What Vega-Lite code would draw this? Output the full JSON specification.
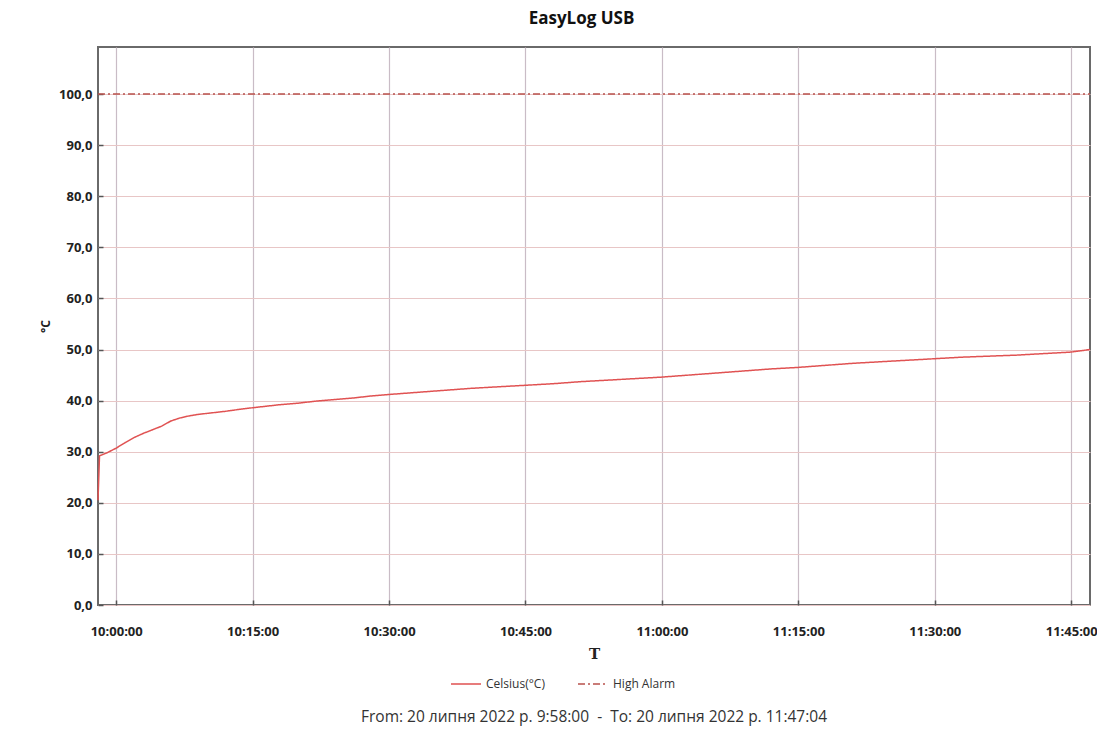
{
  "$schema": "https://vega.github.io/schema/vega-lite/v6.json",
  "width": 992,
  "height": 558,
  "autosize": {"type": "none"},
  "padding": {"left": 98, "top": 47, "right": 7, "bottom": 131},
  "background": "white",
  "title": {
    "text": "From: 20 липня 2022 р. 9:58:00 \u00a0-\u00a0 To: 20 липня 2022 р. 11:47:04",
    "orient": "bottom",
    "anchor": "middle",
    "font": "Open Sans",
    "fontSize": 15.5,
    "fontWeight": "normal",
    "color": "#333333",
    "offset": 20,
    "limit": 0
  },
  "data": {
    "values": [
      {"t": "2022-07-20T09:58:00", "v": 20.5, "s": "Celsius(°C)"},
      {"t": "2022-07-20T09:58:10", "v": 29.2, "s": "Celsius(°C)"},
      {"t": "2022-07-20T09:59:00", "v": 29.8, "s": "Celsius(°C)"},
      {"t": "2022-07-20T10:00:00", "v": 30.7, "s": "Celsius(°C)"},
      {"t": "2022-07-20T10:01:00", "v": 31.8, "s": "Celsius(°C)"},
      {"t": "2022-07-20T10:02:00", "v": 32.8, "s": "Celsius(°C)"},
      {"t": "2022-07-20T10:03:00", "v": 33.6, "s": "Celsius(°C)"},
      {"t": "2022-07-20T10:04:00", "v": 34.3, "s": "Celsius(°C)"},
      {"t": "2022-07-20T10:05:00", "v": 35.0, "s": "Celsius(°C)"},
      {"t": "2022-07-20T10:06:00", "v": 36.0, "s": "Celsius(°C)"},
      {"t": "2022-07-20T10:07:00", "v": 36.6, "s": "Celsius(°C)"},
      {"t": "2022-07-20T10:08:00", "v": 37.0, "s": "Celsius(°C)"},
      {"t": "2022-07-20T10:09:00", "v": 37.3, "s": "Celsius(°C)"},
      {"t": "2022-07-20T10:10:00", "v": 37.5, "s": "Celsius(°C)"},
      {"t": "2022-07-20T10:12:00", "v": 37.9, "s": "Celsius(°C)"},
      {"t": "2022-07-20T10:14:00", "v": 38.4, "s": "Celsius(°C)"},
      {"t": "2022-07-20T10:16:00", "v": 38.8, "s": "Celsius(°C)"},
      {"t": "2022-07-20T10:18:00", "v": 39.2, "s": "Celsius(°C)"},
      {"t": "2022-07-20T10:20:00", "v": 39.5, "s": "Celsius(°C)"},
      {"t": "2022-07-20T10:22:00", "v": 39.9, "s": "Celsius(°C)"},
      {"t": "2022-07-20T10:24:00", "v": 40.2, "s": "Celsius(°C)"},
      {"t": "2022-07-20T10:26:00", "v": 40.5, "s": "Celsius(°C)"},
      {"t": "2022-07-20T10:28:00", "v": 40.9, "s": "Celsius(°C)"},
      {"t": "2022-07-20T10:30:00", "v": 41.2, "s": "Celsius(°C)"},
      {"t": "2022-07-20T10:33:00", "v": 41.6, "s": "Celsius(°C)"},
      {"t": "2022-07-20T10:36:00", "v": 42.0, "s": "Celsius(°C)"},
      {"t": "2022-07-20T10:39:00", "v": 42.4, "s": "Celsius(°C)"},
      {"t": "2022-07-20T10:42:00", "v": 42.7, "s": "Celsius(°C)"},
      {"t": "2022-07-20T10:45:00", "v": 43.0, "s": "Celsius(°C)"},
      {"t": "2022-07-20T10:48:00", "v": 43.3, "s": "Celsius(°C)"},
      {"t": "2022-07-20T10:51:00", "v": 43.7, "s": "Celsius(°C)"},
      {"t": "2022-07-20T10:54:00", "v": 44.0, "s": "Celsius(°C)"},
      {"t": "2022-07-20T10:57:00", "v": 44.3, "s": "Celsius(°C)"},
      {"t": "2022-07-20T11:00:00", "v": 44.6, "s": "Celsius(°C)"},
      {"t": "2022-07-20T11:03:00", "v": 45.0, "s": "Celsius(°C)"},
      {"t": "2022-07-20T11:06:00", "v": 45.4, "s": "Celsius(°C)"},
      {"t": "2022-07-20T11:09:00", "v": 45.8, "s": "Celsius(°C)"},
      {"t": "2022-07-20T11:12:00", "v": 46.2, "s": "Celsius(°C)"},
      {"t": "2022-07-20T11:15:00", "v": 46.5, "s": "Celsius(°C)"},
      {"t": "2022-07-20T11:18:00", "v": 46.9, "s": "Celsius(°C)"},
      {"t": "2022-07-20T11:21:00", "v": 47.3, "s": "Celsius(°C)"},
      {"t": "2022-07-20T11:24:00", "v": 47.6, "s": "Celsius(°C)"},
      {"t": "2022-07-20T11:27:00", "v": 47.9, "s": "Celsius(°C)"},
      {"t": "2022-07-20T11:30:00", "v": 48.2, "s": "Celsius(°C)"},
      {"t": "2022-07-20T11:33:00", "v": 48.5, "s": "Celsius(°C)"},
      {"t": "2022-07-20T11:36:00", "v": 48.7, "s": "Celsius(°C)"},
      {"t": "2022-07-20T11:39:00", "v": 48.9, "s": "Celsius(°C)"},
      {"t": "2022-07-20T11:42:00", "v": 49.2, "s": "Celsius(°C)"},
      {"t": "2022-07-20T11:45:00", "v": 49.5, "s": "Celsius(°C)"},
      {"t": "2022-07-20T11:47:04", "v": 50.0, "s": "Celsius(°C)"},
      {"t": "2022-07-20T09:58:00", "v": 100, "s": "High Alarm"},
      {"t": "2022-07-20T11:47:04", "v": 100, "s": "High Alarm"}
    ]
  },
  "encoding": {
    "y": {
      "field": "v",
      "type": "quantitative",
      "scale": {"domain": [0, 109.2], "nice": false, "zero": false},
      "axis": {
        "title": "°C",
        "values": [0, 10, 20, 30, 40, 50, 60, 70, 80, 90, 100],
        "format": ".1f",
        "labelFont": "Open Sans",
        "labelFontSize": 13,
        "labelFontWeight": "bold",
        "labelColor": "#222222",
        "labelPadding": 11,
        "ticks": true,
        "tickSize": -5,
        "tickColor": "#555555",
        "tickWidth": 1.5,
        "domain": false,
        "grid": true,
        "gridColor": "#e8c6c6",
        "gridWidth": 1.2,
        "titleFont": "Open Sans",
        "titleFontSize": 12,
        "titleFontWeight": "bold",
        "titleColor": "#222222",
        "titlePadding": 6
      }
    },
    "color": {
      "field": "s",
      "type": "nominal",
      "scale": {"domain": ["Celsius(°C)", "High Alarm"], "range": ["#e05252", "#b8524c"]},
      "legend": {
        "title": null,
        "orient": "none",
        "legendX": 352,
        "legendY": 621,
        "direction": "horizontal",
        "symbolType": "stroke",
        "symbolSize": 900,
        "symbolStrokeWidth": 1.5,
        "labelFont": "Open Sans",
        "labelFontSize": 12,
        "labelColor": "#333333",
        "columnPadding": 30
      }
    },
    "strokeDash": {
      "field": "s",
      "type": "nominal",
      "scale": {"domain": ["Celsius(°C)", "High Alarm"], "range": [[1, 0], [7, 3, 2, 3]]}
    }
  },
  "layer": [
    {
      "transform": [{"filter": "datum.s == 'Celsius(°C)'"}],
      "mark": {"type": "line", "strokeWidth": 1.5},
      "encoding": {
        "x": {
          "field": "t",
          "type": "temporal",
          "scale": {
            "domain": [
              {"year": 2022, "month": 7, "date": 20, "hours": 9, "minutes": 58, "seconds": 0},
              {"year": 2022, "month": 7, "date": 20, "hours": 11, "minutes": 47, "seconds": 4}
            ],
            "nice": false
          },
          "axis": {
            "orient": "bottom",
            "title": "T",
            "format": "%H:%M:%S",
            "values": [
              {"year": 2022, "month": 7, "date": 20, "hours": 10, "minutes": 0},
              {"year": 2022, "month": 7, "date": 20, "hours": 10, "minutes": 15},
              {"year": 2022, "month": 7, "date": 20, "hours": 10, "minutes": 30},
              {"year": 2022, "month": 7, "date": 20, "hours": 10, "minutes": 45},
              {"year": 2022, "month": 7, "date": 20, "hours": 11, "minutes": 0},
              {"year": 2022, "month": 7, "date": 20, "hours": 11, "minutes": 15},
              {"year": 2022, "month": 7, "date": 20, "hours": 11, "minutes": 30},
              {"year": 2022, "month": 7, "date": 20, "hours": 11, "minutes": 45}
            ],
            "labelFont": "Open Sans",
            "labelFontSize": 13,
            "labelFontWeight": "bold",
            "labelColor": "#222222",
            "labelPadding": 25,
            "labelFlush": false,
            "ticks": true,
            "tickSize": -5,
            "tickColor": "#555555",
            "tickWidth": 1.5,
            "domain": false,
            "grid": true,
            "gridColor": "#c9bcc6",
            "gridWidth": 1.2,
            "titleFont": "DejaVu Serif",
            "titleFontSize": 15,
            "titleFontWeight": "bold",
            "titleColor": "#222222",
            "titlePadding": 8
          }
        }
      }
    },
    {
      "transform": [{"filter": "datum.s == 'High Alarm'"}],
      "mark": {"type": "line", "strokeWidth": 1.3},
      "encoding": {
        "x": {
          "field": "t",
          "type": "temporal",
          "axis": {
            "orient": "top",
            "title": "EasyLog USB",
            "labels": false,
            "ticks": false,
            "domain": false,
            "grid": false,
            "titleFont": "Open Sans",
            "titleFontSize": 17,
            "titleFontWeight": "bold",
            "titleColor": "#111111",
            "titleX": 483,
            "titlePadding": 20
          }
        }
      }
    }
  ],
  "resolve": {"axis": {"x": "independent"}},
  "config": {
    "view": {"stroke": "#6a6a6a", "strokeWidth": 2},
    "locale": {"number": {"decimal": ",", "thousands": " ", "grouping": [3], "currency": ["", ""]}}
  }
}
